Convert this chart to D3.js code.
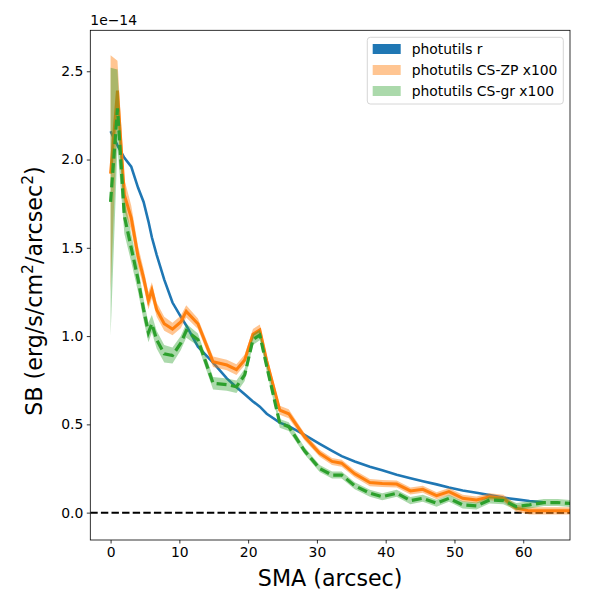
<!DOCTYPE html>
<html>
<head>
<meta charset="utf-8">
<script src="https://cdn.jsdelivr.net/npm/d3@7"></script>
<style>
  body { margin: 0; background: #fff; }
  svg { font-family: "DejaVu Sans", sans-serif; }
</style>
</head>
<body>
<svg id="chart" width="600" height="600"></svg>
<script>
// semi-major axis samples (arcsec)
var sma = [0, 1, 2, 3, 4, 4.8, 5.5, 6, 6.7, 7.8, 9, 10.2, 11, 12.7, 14.9, 16.9, 18.3, 19.5,
  20.7, 21.7, 22.7, 24.6, 25.9, 28.2, 30.4, 32.2, 33.6, 35.5, 37.7, 39.5, 41.6, 43.6, 45.4,
  47.4, 49.2, 51.2, 53.2, 55.1, 57.1, 59, 60.9, 63, 65, 67.5];

// SB in units of 1e-14
var sbR = [2.16, 2.08, 2.01, 1.96, 1.84, 1.76, 1.65, 1.56, 1.46, 1.32, 1.19, 1.11, 1.06, 0.94,
  0.85, 0.76, 0.71, 0.67, 0.63, 0.60, 0.56, 0.51, 0.49, 0.44, 0.39, 0.35, 0.32, 0.29, 0.26,
  0.24, 0.215, 0.195, 0.178, 0.16, 0.142, 0.125, 0.113, 0.10, 0.085, 0.075, 0.066, 0.058, null, null];

var sbZP = [1.92, 2.39, 1.80, 1.67, 1.45, 1.33, 1.20, 1.26, 1.15, 1.07, 1.04, 1.08, 1.14, 1.07,
  0.855, 0.836, 0.81, 0.865, 1.01, 1.035, 0.86, 0.58, 0.56, 0.43, 0.336, 0.29, 0.28, 0.22,
  0.17, 0.165, 0.162, 0.123, 0.132, 0.096, 0.119, 0.081, 0.072, 0.09, 0.081, 0.025, 0.01,
  0.01, 0.01, 0.01];
var errZP = [0.67, 0.17, 0.09, 0.07, 0.06, 0.05, 0.05, 0.045, 0.04, 0.04, 0.035, 0.035, 0.035,
  0.03, 0.03, 0.03, 0.03, 0.03, 0.03, 0.03, 0.03, 0.025, 0.025, 0.02, 0.02, 0.02, 0.02, 0.02,
  0.02, 0.02, 0.02, 0.02, 0.02, 0.02, 0.02, 0.02, 0.02, 0.02, 0.02, 0.02, 0.02, 0.02, 0.02, 0.02];

var sbGR = [1.76, 2.29, 1.68, 1.50, 1.32, 1.15, 1.02, 1.07, 0.98, 0.90, 0.89, 0.96, 1.03, 0.98,
  0.733, 0.725, 0.713, 0.78, 0.98, 1.006, 0.83, 0.506, 0.487, 0.35, 0.25, 0.213, 0.213, 0.152,
  0.11, 0.09, 0.11, 0.068, 0.081, 0.053, 0.081, 0.044, 0.038, 0.072, 0.068, 0.034, 0.044,
  0.057, 0.057, 0.05];
var errGR = [0.76, 0.22, 0.10, 0.08, 0.07, 0.06, 0.055, 0.05, 0.05, 0.05, 0.045, 0.04, 0.04,
  0.035, 0.035, 0.035, 0.035, 0.035, 0.03, 0.03, 0.03, 0.025, 0.025, 0.02, 0.02, 0.02, 0.02,
  0.02, 0.02, 0.02, 0.02, 0.02, 0.02, 0.02, 0.02, 0.02, 0.02, 0.02, 0.02, 0.02, 0.02, 0.02, 0.02, 0.02];

var xTicks = [0, 10, 20, 30, 40, 50, 60];
var yTicks = [0, 0.5, 1.0, 1.5, 2.0, 2.5];
var legendLabels = ["photutils r", "photutils CS-ZP x100", "photutils CS-gr x100"];

var svg = d3.select("#chart");
var mLeft = 90.3, mRight = 570, mTop = 30.3, mBottom = 540;

var x = d3.scaleLinear().domain([-2.95, 66.8]).range([mLeft, mRight]);
var y = d3.scaleLinear().domain([-0.155, 2.732]).range([mBottom, mTop]);

svg.append("clipPath").attr("id", "clip")
  .append("rect").attr("x", mLeft).attr("y", mTop)
  .attr("width", mRight - mLeft).attr("height", mBottom - mTop);

var plot = svg.append("g").attr("clip-path", "url(#clip)");

function series(vals, errs) {
  return sma.map(function(s, i) {
    return {x: s, y: vals[i], e: errs ? errs[i] : 0};
  }).filter(function(d) { return d.y != null; });
}

var line = d3.line().x(function(d) { return x(d.x); }).y(function(d) { return y(d.y); });
var band = d3.area()
  .x(function(d) { return x(d.x); })
  .y0(function(d) { return y(d.y - d.e); })
  .y1(function(d) { return y(d.y + d.e); });

// zero line
plot.append("line")
  .attr("x1", mLeft).attr("x2", mRight)
  .attr("y1", y(0)).attr("y2", y(0))
  .attr("stroke", "#000").attr("stroke-width", 2)
  .attr("stroke-dasharray", "7.4,3.2");

plot.append("path").datum(series(sbR))
  .attr("d", line).attr("fill", "none")
  .attr("stroke", "#1f77b4").attr("stroke-width", 2.6);

var zp = series(sbZP, errZP);
plot.append("path").datum(zp).attr("d", band)
  .attr("fill", "#ff7f0e").attr("fill-opacity", 0.45);
plot.append("path").datum(zp).attr("d", line).attr("fill", "none")
  .attr("stroke", "#ff7f0e").attr("stroke-width", 3);

var gr = series(sbGR, errGR);
plot.append("path").datum(gr).attr("d", band)
  .attr("fill", "#2ca02c").attr("fill-opacity", 0.4);
plot.append("path").datum(gr).attr("d", line).attr("fill", "none")
  .attr("stroke", "#2ca02c").attr("stroke-width", 3.2)
  .attr("stroke-dasharray", "10,4.5");

// axes
var xAxis = svg.append("g").attr("transform", "translate(0," + mBottom + ")")
  .call(d3.axisBottom(x).tickValues(xTicks).tickSize(3.5).tickPadding(3.5).tickFormat(d3.format("d")));
var yAxis = svg.append("g").attr("transform", "translate(" + mLeft + ",0)")
  .call(d3.axisLeft(y).tickValues(yTicks).tickSize(3.5).tickPadding(3.5).tickFormat(d3.format(".1f")));
[xAxis, yAxis].forEach(function(a) {
  a.select(".domain").remove();
  a.selectAll("line").attr("stroke", "#000").attr("stroke-width", 0.8);
  a.selectAll("text").attr("font-size", "13.9px").attr("fill", "#000")
    .attr("font-family", "DejaVu Sans");
});

svg.append("rect")
  .attr("x", mLeft).attr("y", mTop)
  .attr("width", mRight - mLeft).attr("height", mBottom - mTop)
  .attr("fill", "none").attr("stroke", "#000").attr("stroke-width", 0.8);

svg.append("text").attr("x", mLeft).attr("y", 25)
  .attr("font-size", "13.9px").text("1e\u221214");

svg.append("text").attr("x", (mLeft + mRight) / 2).attr("y", 586)
  .attr("text-anchor", "middle").attr("font-size", "22.2px").text("SMA (arcsec)");

var yl = svg.append("text")
  .attr("transform", "translate(42,291) rotate(-90)")
  .attr("text-anchor", "middle").attr("font-size", "22.2px");
yl.append("tspan").text("SB (erg/s/cm");
yl.append("tspan").attr("font-size", "15.5px").attr("dy", -9).text("2");
yl.append("tspan").attr("dy", 9).text("/arcsec");
yl.append("tspan").attr("font-size", "15.5px").attr("dy", -9).text("2");
yl.append("tspan").attr("dy", 9).text(")");

// legend
var lg = svg.append("g");
lg.append("rect").attr("x", 367.3).attr("y", 37.3).attr("width", 196).attr("height", 66.7)
  .attr("rx", 3).attr("fill", "#fff").attr("fill-opacity", 0.8)
  .attr("stroke", "#cccccc").attr("stroke-width", 0.8);
var legendFill = [
  {c: "#1f77b4", o: 1},
  {c: "#ff7f0e", o: 0.45},
  {c: "#2ca02c", o: 0.4}
];
legendLabels.forEach(function(t, i) {
  var cy = 49 + i * 21;
  lg.append("rect").attr("x", 372.7).attr("y", cy - 5).attr("width", 28).attr("height", 10)
    .attr("fill", legendFill[i].c).attr("fill-opacity", legendFill[i].o);
  lg.append("text").attr("x", 411.7).attr("y", cy + 5)
    .attr("font-size", "13.9px").text(t);
});
</script>
</body>
</html>
